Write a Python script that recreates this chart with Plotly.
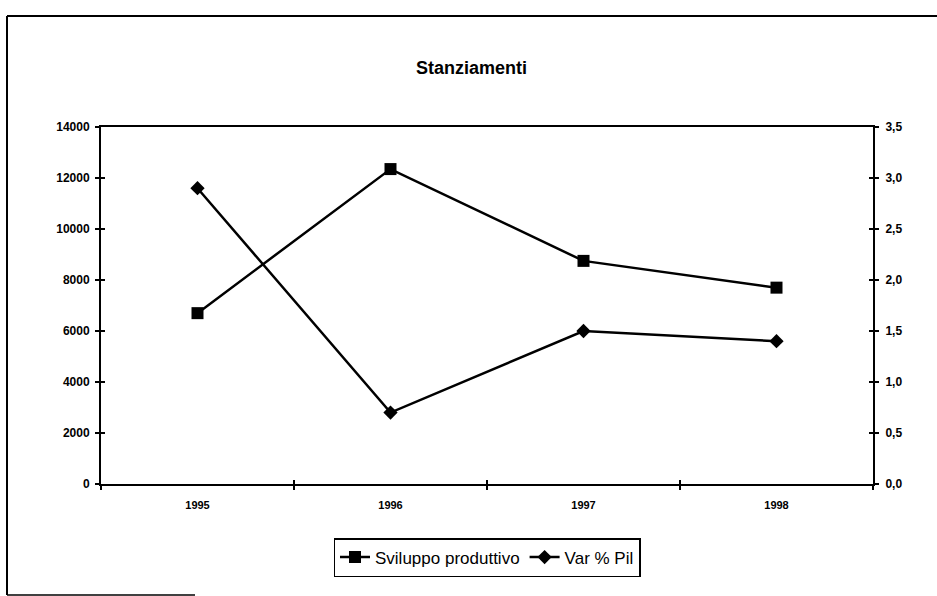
import plotly.graph_objects as go

# Data
anni = ["1995", "1996", "1997", "1998"]
sviluppo_produttivo = [6700, 12350, 8750, 7700]
var_pil = [2.9, 0.7, 1.5, 1.4]

W, H = 937, 596
L, R, T, B = 101, 873, 127, 484  # plot area in pixels


def px(x):
    return (x - L) / (R - L)


def py(y):
    return (B - y) / (B - T)


FONT = "Liberation Sans, Arial, sans-serif"

fig = go.Figure()
fig.add_trace(go.Scatter(
    x=anni, y=sviluppo_produttivo, name="Sviluppo produttivo",
    mode="lines+markers",
    line=dict(color="black", width=2.5),
    marker=dict(symbol="square", size=12, color="black"),
    yaxis="y",
))
fig.add_trace(go.Scatter(
    x=anni, y=var_pil, name="Var % Pil",
    mode="lines+markers",
    line=dict(color="black", width=2.5),
    marker=dict(symbol="diamond", size=11, color="black"),
    yaxis="y2",
))

axis_common = dict(showgrid=False, zeroline=False, showline=True,
                   linecolor="black", linewidth=2, tickcolor="black",
                   ticklen=4, tickwidth=1.5)

fig.update_layout(
    width=W, height=H,
    margin=dict(l=L, r=W - R, t=T, b=H - B),
    paper_bgcolor="white", plot_bgcolor="white",
    separators=",.",
    showlegend=True,
    font=dict(family=FONT, color="black"),
    xaxis=dict(type="category", range=[-0.5, 3.5], tickson="boundaries",
               ticks="outside", mirror=True, ticklabelstandoff=10,
               tickfont=dict(size=11, family=FONT, weight="bold"),
               **axis_common),
    yaxis=dict(range=[0, 14000], dtick=2000, tickformat="d", ticks="outside",
               tickfont=dict(size=12, family=FONT, weight="bold"),
               ticklabelstandoff=3,
               **axis_common),
    yaxis2=dict(range=[0, 3.5], dtick=0.5, tickformat=".1f", side="right",
                overlaying="y", ticks="outside", ticklabelstandoff=4,
                tickfont=dict(size=12, family=FONT, weight="bold"),
                **axis_common),
    # inner halves of the cross-shaped ticks
    xaxis2=dict(type="category", range=[-0.5, 3.5], tickson="boundaries",
                overlaying="x", ticks="inside", showticklabels=False,
                showline=False, showgrid=False, zeroline=False,
                tickcolor="black", ticklen=4, tickwidth=1.5,
                categoryarray=anni, categoryorder="array"),
    yaxis3=dict(range=[0, 14000], dtick=2000, overlaying="y", ticks="inside",
                showticklabels=False, showline=False, showgrid=False,
                zeroline=False, tickcolor="black", ticklen=4, tickwidth=1.5),
    yaxis4=dict(range=[0, 3.5], dtick=0.5, overlaying="y", side="right",
                ticks="inside", showticklabels=False, showline=False,
                showgrid=False, zeroline=False, tickcolor="black",
                ticklen=4, tickwidth=1.5),
    legend=dict(orientation="h", x=px(487), xanchor="center",
                y=py(538), yanchor="top",
                bordercolor="black", borderwidth=1.5, bgcolor="white",
                font=dict(size=17, family=FONT), itemwidth=30,
                tracegroupgap=0),
    annotations=[dict(text="<b>Stanziamenti</b>", x=px(471), y=py(68),
                      xref="paper", yref="paper", showarrow=False,
                      xanchor="center", yanchor="middle",
                      font=dict(size=18, family=FONT))],
    shapes=[
        # outer chart frame
        dict(type="line", xref="paper", yref="paper",
             x0=px(7), y0=py(16), x1=px(940), y1=py(16),
             line=dict(color="black", width=2)),
        dict(type="line", xref="paper", yref="paper",
             x0=px(7), y0=py(16), x1=px(7), y1=py(595),
             line=dict(color="black", width=2)),
        dict(type="line", xref="paper", yref="paper",
             x0=px(7), y0=py(595), x1=px(195), y1=py(595),
             line=dict(color="black", width=1.5)),
    ],
)

# placeholder traces that bring up the tick-only overlay axes
fig.add_trace(go.Scatter(x=anni, y=[None] * 4, xaxis="x2", yaxis="y3",
                         showlegend=False, hoverinfo="skip"))
fig.add_trace(go.Scatter(x=anni, y=[None] * 4, xaxis="x2", yaxis="y4",
                         showlegend=False, hoverinfo="skip"))

fig.write_html("out.html")
